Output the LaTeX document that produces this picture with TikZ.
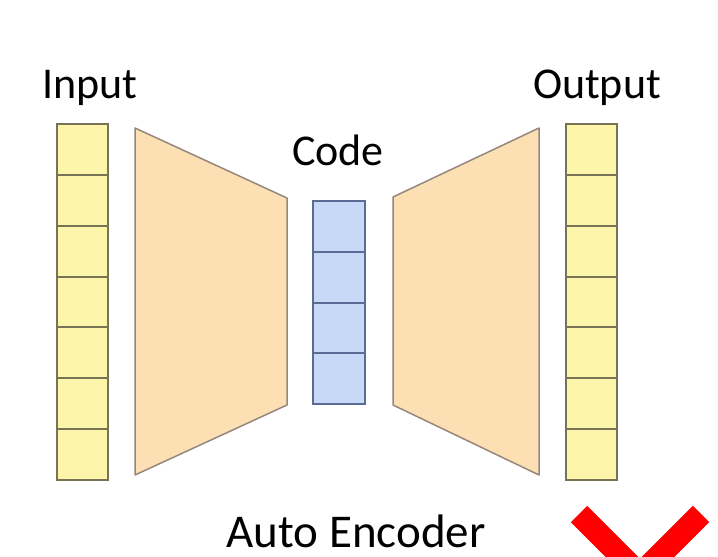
\documentclass[tikz,border=0pt]{standalone}
\usepackage{fontspec}
\setmainfont{Carlito}
\definecolor{cellyellow}{RGB}{253,245,170}
\definecolor{cellblue}{RGB}{199,217,247}
\definecolor{netpeach}{RGB}{252,224,180}
\definecolor{yellowline}{RGB}{120,115,85}
\definecolor{blueline}{RGB}{90,108,148}
\definecolor{peachline}{RGB}{150,135,125}
\definecolor{markred}{RGB}{255,0,0}

\tikzset{
  incell/.style={fill=cellyellow, minimum width=51pt, minimum height=50.86pt, inner sep=0pt},
  codecell/.style={fill=cellblue, minimum width=52pt, minimum height=50.75pt, inner sep=0pt},
  cellline/.style={line width=1.6pt},
  netpart/.style={draw=peachline, fill=netpeach, line width=1.5pt, line join=round},
  label/.style={anchor=base, inner sep=0pt, font=\fontsize{44}{44}\selectfont}
}

\begin{document}
\begin{tikzpicture}[x=1pt,y=-1pt]
\clip (0,0) rectangle (718,557);
\fill[white] (0,0) rectangle (718,557);

% input and output vectors
\foreach \i in {1,...,7}{
  \node[incell] (in\i) at (82.5,{124+50.86*(\i-0.5)}) {};
  \node[incell] (out\i) at (591.5,{124+50.86*(\i-0.5)}) {};
}
\foreach \i in {1,...,7}{
  \draw[cellline, draw=yellowline] (in\i.north west) rectangle (in\i.south east);
  \draw[cellline, draw=yellowline] (out\i.north west) rectangle (out\i.south east);
}
% code vector
\foreach \i in {1,...,4}{
  \node[codecell] (code\i) at (339,{201+50.75*(\i-0.5)}) {};
}
\foreach \i in {1,...,4}{
  \draw[cellline, draw=blueline] (code\i.north west) rectangle (code\i.south east);
}

% encoder and decoder
\draw[netpart] (135,128) -- (287,198) -- (287,405) -- (135,475) -- cycle;
\draw[netpart] (393,197) -- (539,128) -- (539,475) -- (393,405) -- cycle;

\node[label] (inlabel) at (90,98) {Input};
\node[label] (codelabel) at (338,165) {Code};
\node[label] (outlabel) at (597,98) {Output};
\node[label, font=\fontsize{47}{47}\selectfont] (title) at (356,547) {Auto Encoder};

% red mark, cut by the border
\draw[markred, line width=23pt, line join=miter] (579,514) -- (640,575) -- (701,514);
\end{tikzpicture}
\end{document}
